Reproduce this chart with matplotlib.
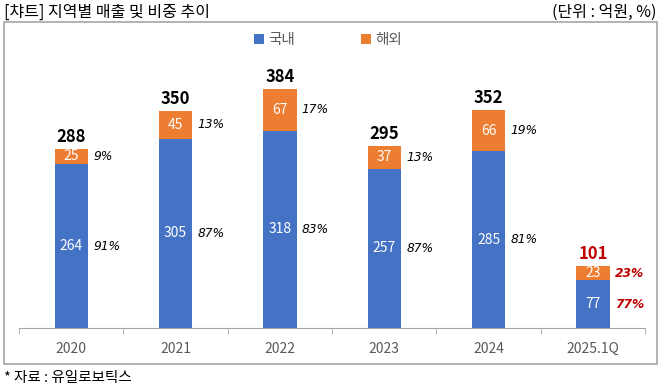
import numpy as np
import matplotlib.pyplot as plt
from matplotlib.patches import Rectangle

plt.rcParams['font.family'] = ['Noto Sans CJK KR', 'DejaVu Sans']

# 데이터 (억원)
years = ["2020", "2021", "2022", "2023", "2024", "2025.1Q"]
domestic = [264, 305, 318, 257, 285, 77]
overseas = [25, 45, 67, 37, 66, 23]
totals = [288, 350, 384, 295, 352, 101]
dom_pct = ["91%", "87%", "83%", "87%", "81%", "77%"]
ovs_pct = ["9%", "13%", "17%", "13%", "19%", "23%"]

blue = "#4472C4"
orange = "#ED7D31"

fig = plt.figure(figsize=(6.63, 3.9), dpi=100)
ax = fig.add_axes([0.0287, 0.159, 0.9443, 0.668])

x = np.arange(len(years))
w = 0.32
ax.bar(x, domestic, w, color=blue, label="국내", zorder=3)
ax.bar(x, overseas, w, bottom=domestic, color=orange, label="해외", zorder=3)

for i in range(len(years)):
    hl = "#C00000" if i == len(years) - 1 else "black"
    fw = "bold" if i == len(years) - 1 else "normal"
    ax.text(x[i], domestic[i] / 2, str(domestic[i]), ha="center", va="center",
            color="white", fontsize=10)
    ax.text(x[i], domestic[i] + overseas[i] / 2, str(overseas[i]), ha="center",
            va="center", color="white", fontsize=10)
    ax.text(x[i] + w / 2 + 0.05, domestic[i] / 2, dom_pct[i], ha="left",
            va="center", color=hl, fontsize=8.8, style="italic", fontweight=fw,
            family="DejaVu Sans")
    ax.text(x[i] + w / 2 + 0.05, domestic[i] + overseas[i] / 2, ovs_pct[i],
            ha="left", va="center", color=hl, fontsize=8.8, style="italic",
            fontweight=fw, family="DejaVu Sans")
    ax.text(x[i], domestic[i] + overseas[i] + 5, str(totals[i]), ha="center",
            va="bottom", color=hl, fontsize=12, fontweight="bold")

ax.set_xlim(-0.5, len(years) - 0.5)
ax.set_ylim(0, 420)
ax.set_yticks([])
ax.set_xticks(x)
ax.set_xticklabels(years, fontsize=10, color="#595959")
ax.tick_params(axis="x", length=0, pad=10)
ax.set_xticks(np.arange(-0.5, len(years)), minor=True)
ax.tick_params(axis="x", which="minor", length=4, color="#A6A6A6")
for s in ["top", "left", "right"]:
    ax.spines[s].set_visible(False)
ax.spines["bottom"].set_color("#A6A6A6")

fig.legend(*ax.get_legend_handles_labels(), loc="center",
           bbox_to_anchor=(328 / 663, 1 - 40 / 390), ncol=2, frameon=False,
           fontsize=10.5, handlelength=0.7, handleheight=0.7, columnspacing=4.5,
           handletextpad=0.3, labelcolor="#595959")

# 바깥 테두리
fig.patches.append(Rectangle((4 / 663, 26 / 390), 653 / 663, 342 / 390,
                             transform=fig.transFigure, fill=False,
                             edgecolor="#A6A6A6", linewidth=1.2))

fig.text(4 / 663, 1 - 12 / 390, "[챠트] 지역별 매출 및 비중 추이", ha="left",
         va="center", fontsize=11.5)
fig.text(657 / 663, 1 - 12 / 390, "(단위 : 억원, %)", ha="right", va="center",
         fontsize=11.5)
fig.text(4 / 663, 1 - 378 / 390, "* 자료 : 유일로보틱스", ha="left", va="center",
         fontsize=10.5)

fig.savefig("out.png", dpi=100)
